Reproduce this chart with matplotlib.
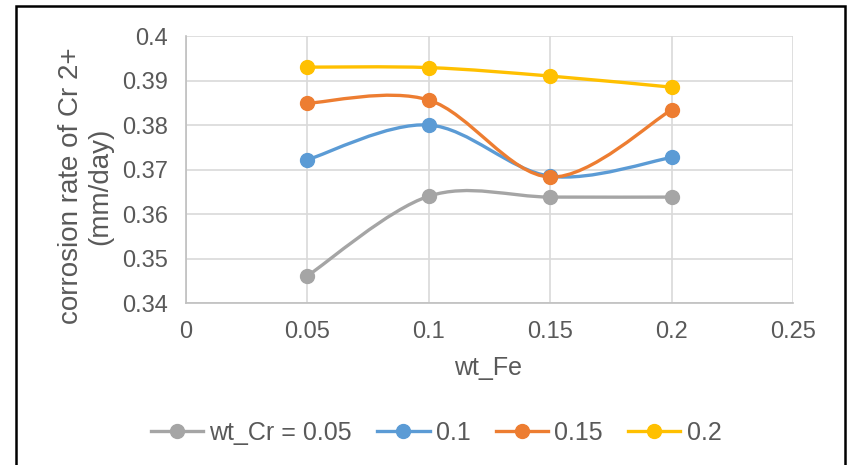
import matplotlib
matplotlib.use("Agg")
import matplotlib.pyplot as plt
import numpy as np
from matplotlib.path import Path
from matplotlib.patches import PathPatch, Rectangle
from matplotlib.lines import Line2D

wt_fe = [0.05, 0.1, 0.15, 0.2]
cr_005 = [0.3461, 0.3640, 0.3638, 0.3638]
cr_010 = [0.3722, 0.3800, 0.3685, 0.3727]
cr_015 = [0.3849, 0.3856, 0.3683, 0.3834]
cr_020 = [0.3930, 0.3929, 0.3910, 0.3885]
series_labels = ["wt_Cr = 0.05", "0.1", "0.15", "0.2"]
colors = ["#A5A5A5", "#5B9BD5", "#ED7D31", "#FFC000"]
x_ticks = [0, 0.05, 0.1, 0.15, 0.2, 0.25]
x_tick_labels = ["0", "0.05", "0.1", "0.15", "0.2", "0.25"]
y_ticks = [0.34, 0.35, 0.36, 0.37, 0.38, 0.39, 0.4]
y_tick_labels = ["0.34", "0.35", "0.36", "0.37", "0.38", "0.39", "0.4"]

plt.rcParams["font.family"] = ["Liberation Sans", "DejaVu Sans"]
txt = "#595959"
W, H = 850, 465

fig = plt.figure(figsize=(8.5, 4.65), dpi=100)
fig.patch.set_facecolor("white")
fig.add_artist(Rectangle((16 / W, -0.05), (845 - 16) / W, 1 - 6 / H + 0.05,
                         transform=fig.transFigure, fill=False, edgecolor="black", lw=1.8))
ax = fig.add_axes([186 / W, 1 - 303 / H, (793 - 186) / W, (303 - 36) / H])


def smooth_path(x, y):
    pts = np.column_stack([x, y])
    n = len(pts)
    verts = [pts[0]]
    codes = [Path.MOVETO]
    for i in range(n - 1):
        p0 = pts[i - 1] if i > 0 else pts[i]
        p1 = pts[i]
        p2 = pts[i + 1]
        p3 = pts[i + 2] if i + 2 < n else pts[i + 1]
        c1 = p1 + (p2 - p0) / 6.0
        c2 = p2 - (p3 - p1) / 6.0
        verts += [c1, c2, p2]
        codes += [Path.CURVE4] * 3
    return Path(verts, codes)


for ys, c in zip([cr_005, cr_010, cr_015, cr_020], colors):
    p = smooth_path(np.array(wt_fe), np.array(ys))
    ax.add_patch(PathPatch(p, facecolor="none", edgecolor=c, lw=2.4, zorder=3,
                           capstyle="round", joinstyle="round"))
    ax.plot(wt_fe, ys, linestyle="none", marker="o", ms=10, color=c, zorder=4)

ax.set_xlim(0, 0.25)
ax.set_ylim(0.34, 0.4)
ax.set_xticks(x_ticks)
ax.set_xticklabels(x_tick_labels)
ax.set_yticks(y_ticks)
ax.set_yticklabels(y_tick_labels)
ax.grid(True, color="#D9D9D9", lw=1.2)
ax.set_axisbelow(True)
for s in ["top", "right"]:
    ax.spines[s].set_visible(False)
for s in ["left", "bottom"]:
    ax.spines[s].set_color("#BFBFBF")
    ax.spines[s].set_linewidth(1.2)
ax.tick_params(length=0, labelsize=17, colors=txt, pad=13)

fig.text(488 / W, 1 - 368 / H, "wt_Fe", fontsize=18, color=txt, ha="center", va="center")
fig.text(86 / W, 1 - 186 / H, "corrosion rate of Cr 2+\n(mm/day)", fontsize=20, color=txt,
         ha="center", va="center", rotation=90, multialignment="center", linespacing=1.15)

handles = [Line2D([0], [0], color=c, lw=2.4, marker="o", ms=10) for c in colors]
leg = fig.legend(handles, series_labels, loc="center", bbox_to_anchor=(436 / W, 1 - 433 / H),
                 ncol=4, frameon=False, fontsize=18, handlelength=2.1, handletextpad=0.25,
                 columnspacing=1.0, labelcolor=txt)

fig.savefig("out.png", dpi=100, facecolor="white")
